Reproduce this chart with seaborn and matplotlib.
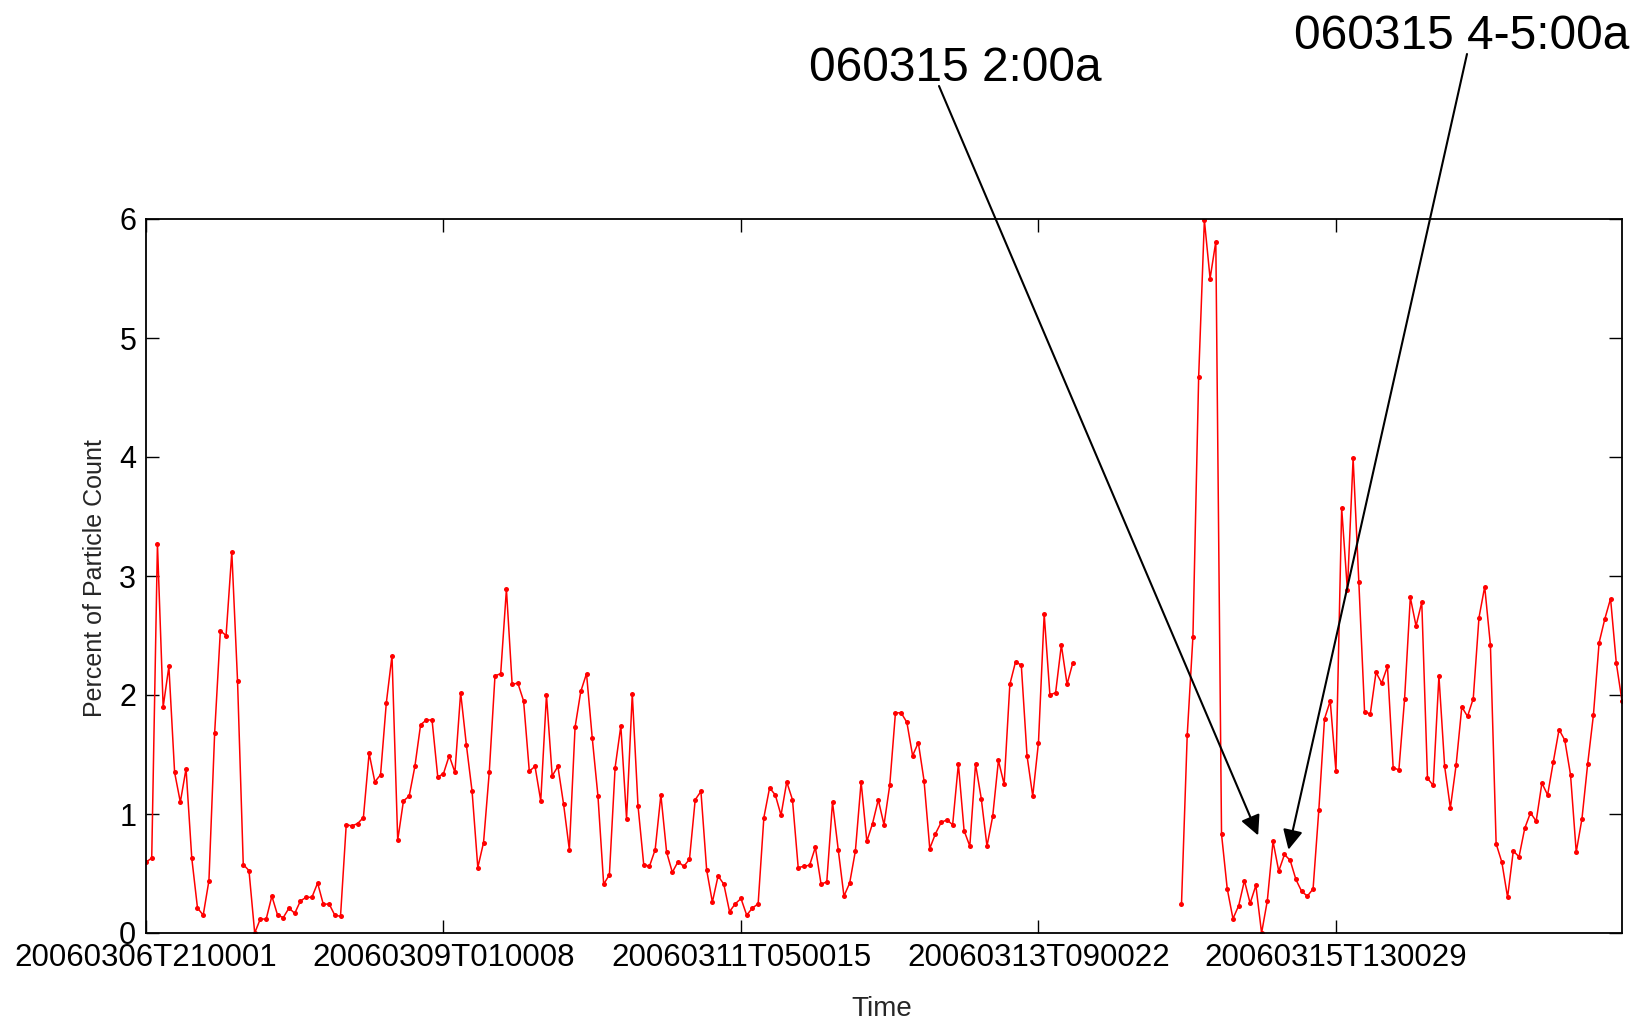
import numpy as np
import pandas as pd
import matplotlib
matplotlib.use("Agg")
import matplotlib.pyplot as plt
import seaborn as sns
from matplotlib import font_manager

# ---------------- data (hourly samples, percent of particle count) ----------------
pct_before_gap = [
    0.595, 0.63, 3.27, 1.90, 2.24, 1.35, 1.10, 1.38, 0.63, 0.21,
    0.15, 0.44, 1.68, 2.54, 2.50, 3.20, 2.12, 0.575, 0.525, 0.0,
    0.12, 0.115, 0.31, 0.15, 0.13, 0.21, 0.165, 0.27, 0.30, 0.30,
    0.42, 0.24, 0.245, 0.15, 0.14, 0.91, 0.90, 0.92, 0.97, 1.51,
    1.27, 1.33, 1.93, 2.33, 0.78, 1.11, 1.15, 1.40, 1.75, 1.79,
    1.79, 1.31, 1.34, 1.49, 1.35, 2.02, 1.58, 1.19, 0.55, 0.76,
    1.35, 2.16, 2.18, 2.89, 2.09, 2.10, 1.95, 1.36, 1.40, 1.11,
    2.00, 1.32, 1.40, 1.08, 0.70, 1.73, 2.03, 2.18, 1.64, 1.15,
    0.41, 0.49, 1.39, 1.74, 0.96, 2.01, 1.07, 0.575, 0.56, 0.70,
    1.16, 0.68, 0.51, 0.60, 0.56, 0.62, 1.12, 1.19, 0.53, 0.26,
    0.48, 0.41, 0.18, 0.245, 0.29, 0.15, 0.21, 0.245, 0.97, 1.22,
    1.16, 0.99, 1.27, 1.12, 0.55, 0.56, 0.57, 0.72, 0.41, 0.43,
    1.10, 0.70, 0.31, 0.42, 0.69, 1.27, 0.77, 0.92, 1.12, 0.91,
    1.24, 1.85, 1.85, 1.77, 1.49, 1.60, 1.28, 0.71, 0.835, 0.93,
    0.95, 0.91, 1.42, 0.86, 0.73, 1.42, 1.13, 0.73, 0.98, 1.45,
    1.25, 2.09, 2.28, 2.25, 1.49, 1.15, 1.60, 2.68, 2.00, 2.02,
    2.42, 2.09, 2.27,
]
n_missing_hours = 18
pct_after_gap = [
    0.24, 1.66, 2.49, 4.67, 5.99, 5.50, 5.81, 0.83, 0.37, 0.12,
    0.23, 0.44, 0.25, 0.40, 0.0, 0.27, 0.77, 0.52, 0.66, 0.61,
    0.45, 0.35, 0.31, 0.37, 1.03, 1.80, 1.95, 1.36, 3.57, 2.88,
    3.99, 2.95, 1.86, 1.84, 2.19, 2.10, 2.24, 1.39, 1.37, 1.97,
    2.82, 2.58, 2.78, 1.30, 1.24, 2.16, 1.40, 1.05, 1.41, 1.90,
    1.82, 1.97, 2.65, 2.91, 2.42, 0.75, 0.595, 0.30, 0.69, 0.64,
    0.88, 1.01, 0.94, 1.26, 1.16, 1.44, 1.71, 1.62, 1.33, 0.68,
    0.96, 1.42, 1.83, 2.44, 2.64, 2.81, 2.27, 1.95,
]
tick_positions = [0, 52, 104, 156, 208]
tick_labels = ["20060306T210001", "20060309T010008", "20060311T050015",
               "20060313T090022", "20060315T130029"]
y_ticks = [0, 1, 2, 3, 4, 5, 6]
annotation_texts = ["060315 2:00a", "060315 4-5:00a"]
annotation_targets = [(194.4, 0.82), (199.7, 0.70)]

# ---------------- fonts ----------------
names = {f.name for f in font_manager.fontManager.ttflist}
regular = "Liberation Sans" if "Liberation Sans" in names else "DejaVu Sans"
narrow = "Liberation Sans Narrow" if "Liberation Sans Narrow" in names else regular
ann_size = 41 if narrow != regular else 34.5

sns.set_style("ticks")
plt.rcParams["font.family"] = [regular, "DejaVu Sans"]

values = pct_before_gap + [np.nan] * n_missing_hours + pct_after_gap
df = pd.DataFrame({"hour": np.arange(len(values)), "pct": values})
df["run"] = df["pct"].isna().cumsum()
df = df.dropna()

W, H = 1642, 1019
fig = plt.figure(figsize=(W / 100, H / 100), dpi=100)
ax = fig.add_axes([146 / W, 1 - 933 / H, (1622 - 146) / W, (933 - 219) / H])

sns.lineplot(data=df, x="hour", y="pct", units="run", estimator=None,
             color="red", lw=1.1, marker="o", markersize=3.6,
             markeredgewidth=0, legend=False, ax=ax)

ax.set_xlim(0, len(values) - 1)
ax.set_ylim(0, 6)
ax.set_xticks(tick_positions)
ax.set_xticklabels(tick_labels)
ax.set_yticks(y_ticks)
ax.tick_params(direction="in", length=9.5, width=1.0, top=True, right=True,
               colors="black")
ax.tick_params(axis="x", pad=7, labelsize=22.5)
ax.tick_params(axis="y", pad=7, labelsize=22)
for s in ax.spines.values():
    s.set_linewidth(1.3)
    s.set_color("black")

ax.set_xlabel("Time", fontsize=20)
ax.xaxis.set_label_coords((882 - 146) / 1476, (933 - 996) / 714)
ax.set_ylabel("Percent of Particle Count", fontsize=18)
ax.yaxis.set_label_coords((107 - 146) / 1476, (933 - 578) / 714)

# annotations
text_centers = [(955, 81), (1462, 49)]
arrow_starts = [(939, 86), (1467, 54)]
for txt, (cx, by), (sx, sy), tgt in zip(annotation_texts, text_centers,
                                          arrow_starts, annotation_targets):
    fig.text(cx / W, 1 - by / H, txt, ha="center", va="baseline",
             fontsize=ann_size, family=[narrow, "DejaVu Sans"], color="black")
    ax.annotate("", xy=tgt, xycoords="data",
                xytext=(sx / W, 1 - sy / H), textcoords="figure fraction",
                arrowprops=dict(arrowstyle="-|>", mutation_scale=30,
                                color="black", lw=1.5, shrinkA=0, shrinkB=0))

fig.savefig("out.png", dpi=100, facecolor="white")
